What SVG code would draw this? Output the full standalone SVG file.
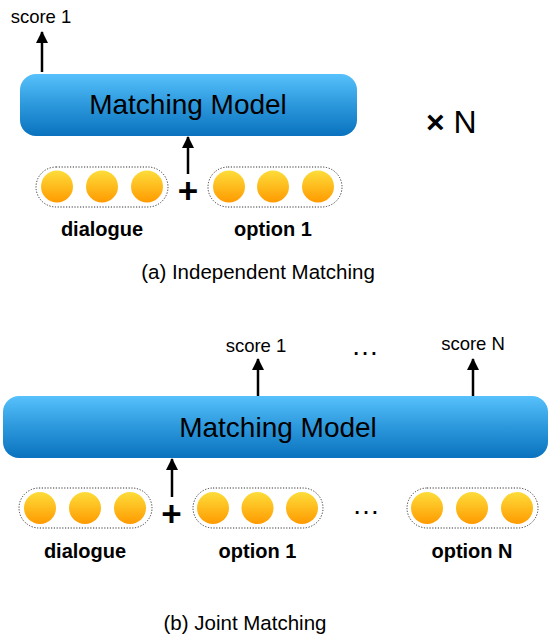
<svg xmlns="http://www.w3.org/2000/svg" width="550" height="637" viewBox="0 0 550 637">
<defs>
<linearGradient id="gBox" x1="0" y1="0" x2="0" y2="1">
<stop offset="0" stop-color="#56C1FB"/>
<stop offset="0.5" stop-color="#2C98DC"/>
<stop offset="1" stop-color="#0A72BE"/>
</linearGradient>
<linearGradient id="gBall" x1="0" y1="0" x2="0" y2="1">
<stop offset="0" stop-color="#FDDD3A"/>
<stop offset="1" stop-color="#FF9A00"/>
</linearGradient>
<marker id="ah" viewBox="0 0 12 12" refX="11" refY="6" markerWidth="12" markerHeight="12" markerUnits="userSpaceOnUse" orient="auto">
<path d="M0,0 L12,6 L0,12 z" fill="#000"/>
</marker>
</defs>
<style>
.box{fill:url(#gBox);}
.ball{fill:url(#gBall);}
.pill{fill:none;stroke:#333;stroke-width:1;stroke-dasharray:1.2 1.6;}
.edge{stroke:#000;stroke-width:2.5;fill:none;marker-end:url(#ah);}
.t{font-family:"Liberation Sans",Arial,sans-serif;fill:#000;}
.model{font-size:28px;text-anchor:middle;}
.score{font-size:18.5px;text-anchor:middle;}
.lbl{font-size:20px;font-weight:bold;text-anchor:middle;}
.cap{font-size:20.5px;text-anchor:middle;}
.plus{font-size:35px;font-weight:bold;text-anchor:middle;}
.dots{font-size:28px;text-anchor:middle;}
</style>

<g id="model-a">
<rect class="box" x="20" y="74" width="337" height="62" rx="16"/>
<text class="t model" x="188" y="114">Matching Model</text>
</g>
<g id="score-a">
<text class="t score" x="41" y="23">score 1</text>
</g>
<g id="dialogue-a">
<rect class="pill" x="36" y="167" width="132" height="40" rx="20"/>
<circle class="ball" cx="57" cy="186.5" r="16"/>
<circle class="ball" cx="102" cy="186.5" r="16"/>
<circle class="ball" cx="147" cy="186.5" r="16"/>
<text class="t lbl" x="102" y="236">dialogue</text>
</g>
<g id="plus-a">
<text class="t plus" x="188" y="203">+</text>
</g>
<g id="option1-a">
<rect class="pill" x="208" y="167" width="134" height="40" rx="20"/>
<circle class="ball" cx="229" cy="186.5" r="16"/>
<circle class="ball" cx="273" cy="186.5" r="16"/>
<circle class="ball" cx="318" cy="186.5" r="16"/>
<text class="t lbl" x="273" y="236">option 1</text>
</g>
<g id="timesN">
<text class="t" x="426" y="133" font-size="32"><tspan font-weight="bold">×</tspan> N</text>
</g>
<g id="caption-a">
<text class="t cap" x="258" y="279">(a) Independent Matching</text>
</g>

<g id="model-b">
<rect class="box" x="3" y="396" width="545" height="62" rx="16"/>
<text class="t model" x="278" y="437">Matching Model</text>
</g>
<g id="score1-b">
<text class="t score" x="256" y="352">score 1</text>
</g>
<g id="dots-top">
<text class="t dots" x="365" y="355">…</text>
</g>
<g id="scoreN-b">
<text class="t score" x="473" y="350">score N</text>
</g>
<g id="dialogue-b">
<rect class="pill" x="19" y="488" width="133" height="40" rx="20"/>
<circle class="ball" cx="40" cy="508" r="16"/>
<circle class="ball" cx="85" cy="508" r="16"/>
<circle class="ball" cx="130" cy="508" r="16"/>
<text class="t lbl" x="85" y="558">dialogue</text>
</g>
<g id="plus-b">
<text class="t plus" x="171.5" y="526">+</text>
</g>
<g id="option1-b">
<rect class="pill" x="193" y="488" width="130" height="40" rx="20"/>
<circle class="ball" cx="213" cy="508" r="16"/>
<circle class="ball" cx="257.5" cy="508" r="16"/>
<circle class="ball" cx="302" cy="508" r="16"/>
<text class="t lbl" x="257.5" y="558">option 1</text>
</g>
<g id="dots-bottom">
<text class="t dots" x="366" y="514">…</text>
</g>
<g id="optionN-b">
<rect class="pill" x="407" y="488" width="131" height="40" rx="20"/>
<circle class="ball" cx="427" cy="508" r="16"/>
<circle class="ball" cx="472" cy="508" r="16"/>
<circle class="ball" cx="517" cy="508" r="16"/>
<text class="t lbl" x="472" y="558">option N</text>
</g>
<g id="caption-b">
<text class="t cap" x="245" y="630">(b) Joint Matching</text>
</g>

<g id="connectors">
<line class="edge" x1="42" y1="72" x2="42" y2="32"/>
<line class="edge" x1="188" y1="174" x2="188" y2="137"/>
<line class="edge" x1="258" y1="396" x2="258" y2="359"/>
<line class="edge" x1="473" y1="396" x2="473" y2="359"/>
<line class="edge" x1="172" y1="497" x2="172" y2="459"/>
</g>
</svg>
